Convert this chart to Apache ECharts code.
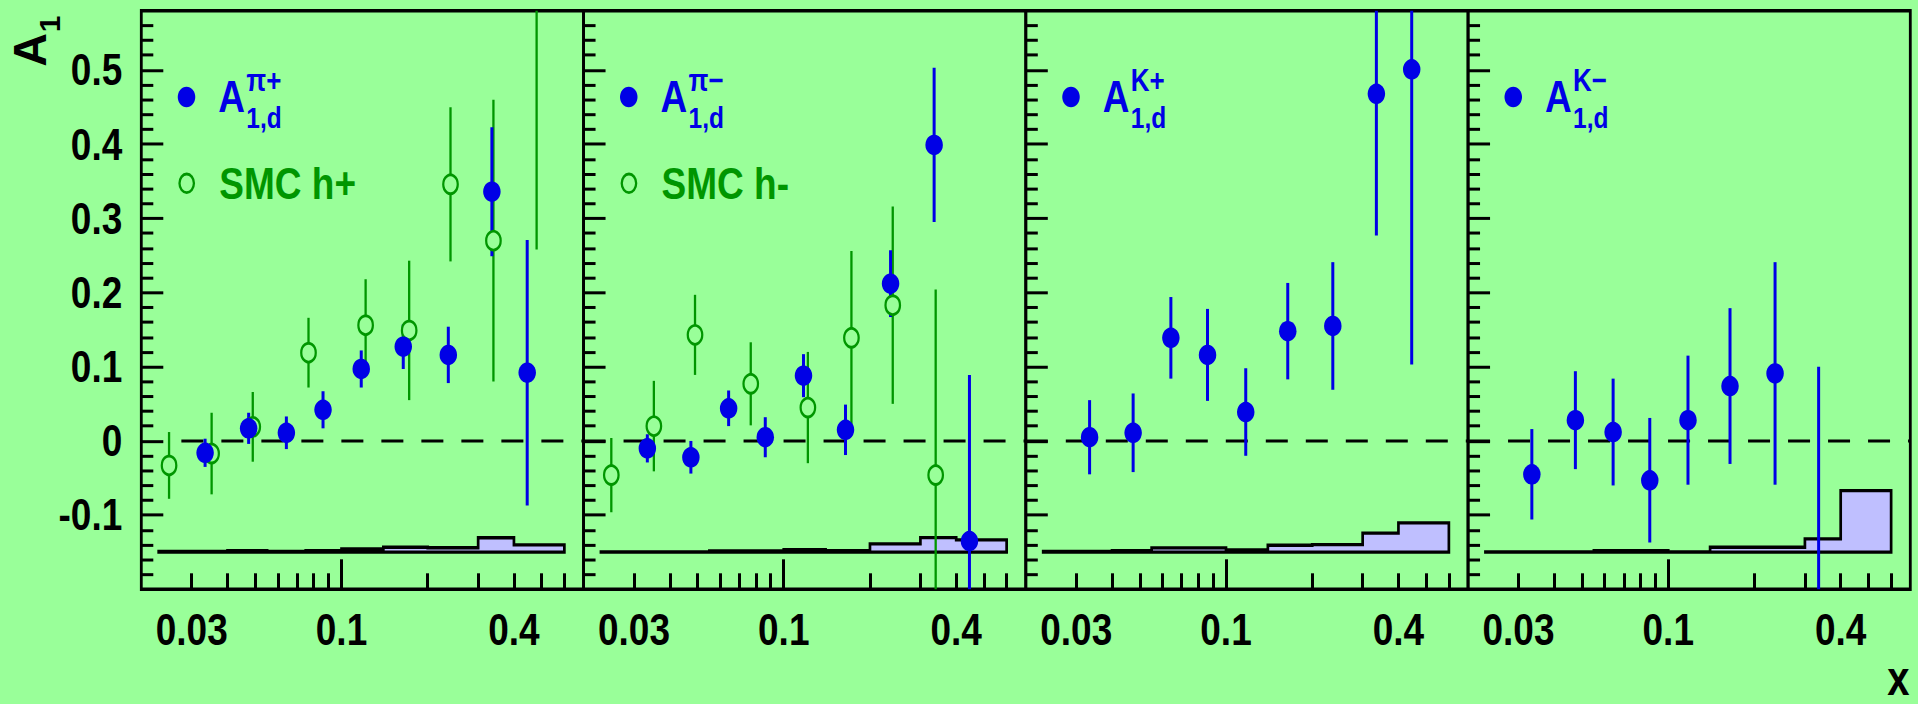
<!DOCTYPE html>
<html>
<head>
<meta charset="utf-8">
<script src="https://cdn.jsdelivr.net/npm/echarts@6/dist/echarts.min.js"></script>
<style>
html, body { margin: 0; padding: 0; background: #ffffff; }
#wrap { width: 1918px; height: 704px; overflow: hidden; background: #99ff99; }
#chart { width: 1918px; height: 577px; transform-origin: 0 0; }
</style>
</head>
<body>
<div id="wrap"><div id="chart"></div></div>
<script>
// ---------------- data ----------------
const binEdges = [0.023, 0.04, 0.055, 0.075, 0.1, 0.14, 0.2, 0.3, 0.4, 0.6];
const hermesX = [0.0334, 0.0474, 0.0642, 0.0862, 0.1172, 0.1643, 0.2360, 0.3350, 0.4450];
const smcX = [0.0250, 0.0352, 0.0490, 0.0767, 0.1214, 0.1723, 0.2402, 0.3392, 0.4800];

const piPlusA1 = [-0.016, 0.017, 0.011, 0.042, 0.097, 0.127, 0.116, 0.336, 0.092];
const piPlusErr = [0.019, 0.021, 0.022, 0.025, 0.025, 0.030, 0.038, 0.087, 0.179];
const piPlusSys = [0.001, 0.002, 0.001, 0.002, 0.0045, 0.0067, 0.006, 0.0195, 0.010];
const smcHPlusA1 = [-0.033, -0.017, 0.019, 0.119, 0.156, 0.149, 0.346, 0.270, 0.620];
const smcHPlusErr = [0.045, 0.055, 0.047, 0.047, 0.062, 0.094, 0.104, 0.190, 0.362];

const piMinusA1 = [-0.010, -0.022, 0.044, 0.005, 0.088, 0.015, 0.212, 0.399, -0.135];
const piMinusErr = [0.019, 0.022, 0.024, 0.027, 0.029, 0.034, 0.045, 0.104, 0.224];
const piMinusSys = [0.0005, 0.0005, 0.0018, 0.0018, 0.0036, 0.0022, 0.0112, 0.0198, 0.0166];
const smcHMinusA1 = [-0.046, 0.020, 0.143, 0.077, 0.045, 0.139, 0.183, -0.046];
const smcHMinusErr = [0.050, 0.061, 0.054, 0.056, 0.075, 0.117, 0.133, 0.250];

const kPlusA1 = [0.005, 0.011, 0.139, 0.116, 0.039, 0.148, 0.155, 0.468, 0.501];
const kPlusErr = [0.050, 0.053, 0.055, 0.062, 0.059, 0.065, 0.086, 0.191, 0.398];
const kPlusSys = [0.001, 0.002, 0.0058, 0.0058, 0.003, 0.0094, 0.0103, 0.0256, 0.0395];

const kMinusA1 = [-0.045, 0.028, 0.012, -0.053, 0.028, 0.074, 0.091, -0.260];
const kMinusErr = [0.061, 0.066, 0.072, 0.084, 0.087, 0.105, 0.150, 0.360];
const kMinusSys = [0.0005, 0.0005, 0.002, 0.002, 0.0005, 0.0067, 0.0067, 0.018, 0.0831];

const sysBaseline = -0.15;
const xRange = [0.02, 0.7];
const yRange = [-0.2, 0.58];
const xTickLabels = [0.03, 0.1, 0.4];
const xShortTicks = [0.03, 0.04, 0.05, 0.06, 0.07, 0.08, 0.09, 0.2, 0.3, 0.4, 0.5, 0.6];
const xLongTicks = [0.1];
const yTickLabels = [-0.1, 0, 0.1, 0.2, 0.3, 0.4, 0.5];
const yMinorTicks = [-0.18, -0.16, -0.14, -0.12, -0.08, -0.06, -0.04, -0.02,
  0.02, 0.04, 0.06, 0.08, 0.12, 0.14, 0.16, 0.18, 0.22, 0.24, 0.26, 0.28,
  0.32, 0.34, 0.36, 0.38, 0.42, 0.44, 0.46, 0.48, 0.52, 0.54, 0.56];
const zeroLineStart = [0.0276, 0.02, 0.02, 0.02];

const superscripts = ['\u03c0+', '\u03c0\u2212', 'K+', 'K\u2212'];
const smcLabels = ['SMC h+', 'SMC h-', null, null];

// ---------------- style / layout ----------------
// The reference is drawn with a vertical stretch: the chart is laid out at
// 577px height and stretched to 704px with CSS (vector SVG output).
const S = 704 / 577;
document.getElementById('chart').style.transform = 'scaleY(' + S + ')';
const yc = v => v / S;

const BG = '#99ff99';
const BLUE = '#0000e6';
const GREEN = '#009600';
const LAVENDER = '#bfbfff';
const FONT = "'Liberation Sans', Arial, Helvetica, sans-serif";
const PANEL_LEFT0 = 141.3, PANEL_W = 442.25;
const PANEL_TOP = yc(10.7), PANEL_H = yc(578.6);
const HLINE = 3 / S;   // line width for horizontal strokes

const panels = [
  { a1: piPlusA1, err: piPlusErr, sys: piPlusSys, smc: smcHPlusA1, smcErr: smcHPlusErr },
  { a1: piMinusA1, err: piMinusErr, sys: piMinusSys, smc: smcHMinusA1, smcErr: smcHMinusErr },
  { a1: kPlusA1, err: kPlusErr, sys: kPlusSys, smc: null, smcErr: null },
  { a1: kMinusA1, err: kMinusErr, sys: kMinusSys, smc: null, smcErr: null }
];

function fmtX(v) { return String(parseFloat(Number(v).toPrecision(3))); }
function fmtY(v) { return String(Math.round(v * 10) / 10); }

function errRender(color, width) {
  return function (params, api) {
    const x = api.value(0), y = api.value(1), e = api.value(2);
    const p1 = api.coord([x, y - e]);
    const p2 = api.coord([x, y + e]);
    return { type: 'line', shape: { x1: p1[0], y1: p1[1], x2: p2[0], y2: p2[1] },
      style: { stroke: color, lineWidth: width } };
  };
}

function histRender(sys) {
  return function (params, api) {
    if (params.dataIndex !== 0) return null;
    const pts = [api.coord([binEdges[0], sysBaseline])];
    for (let k = 0; k < sys.length; k++) {
      pts.push(api.coord([binEdges[k], sysBaseline + sys[k]]));
      pts.push(api.coord([binEdges[k + 1], sysBaseline + sys[k]]));
    }
    pts.push(api.coord([binEdges[sys.length], sysBaseline]));
    return { type: 'polygon', shape: { points: pts },
      style: { fill: LAVENDER, stroke: '#000', lineWidth: 2.7, lineJoin: 'miter' } };
  };
}

function zeroRender(params, api) {
  const p1 = api.coord([api.value(0), 0]);
  const p2 = api.coord([api.value(1), 0]);
  return { type: 'line', shape: { x1: p1[0], y1: p1[1], x2: p2[0], y2: p2[1] },
    style: { stroke: '#000', lineWidth: HLINE, lineDash: [22, 18] } };
}

const grids = [], xAxes = [], yAxes = [], series = [], graphics = [];
const labelStyle = { color: '#000', fontSize: 37, lineHeight: 37, fontWeight: 'bold', fontFamily: FONT };

panels.forEach((p, i) => {
  const L = PANEL_LEFT0 + i * PANEL_W;
  grids.push({ left: L, top: PANEL_TOP, width: PANEL_W, height: PANEL_H, show: true,
    borderColor: '#000', borderWidth: 2.8, backgroundColor: 'transparent',
    containLabel: false, outerBoundsMode: 'none' });

  xAxes.push({ type: 'log', logBase: 10, gridIndex: i, min: xRange[0], max: xRange[1], position: 'bottom',
    axisLine: { show: false, onZero: false }, splitLine: { show: false }, minorTick: { show: false },
    axisTick: { show: true, inside: true, length: yc(16), customValues: xShortTicks, lineStyle: { color: '#000', width: 3 } },
    axisLabel: Object.assign({ show: true, customValues: xTickLabels, formatter: fmtX, margin: 15 }, labelStyle) });
  xAxes.push({ type: 'log', logBase: 10, gridIndex: i, min: xRange[0], max: xRange[1], position: 'bottom',
    axisLine: { show: false, onZero: false }, splitLine: { show: false }, minorTick: { show: false },
    axisTick: { show: true, inside: true, length: yc(30), customValues: xLongTicks, lineStyle: { color: '#000', width: 3 } },
    axisLabel: { show: false } });
  yAxes.push({ type: 'value', gridIndex: i, min: yRange[0], max: yRange[1], position: 'left',
    axisLine: { show: false, onZero: false }, splitLine: { show: false },
    axisTick: { show: true, inside: true, length: 22, customValues: yTickLabels, lineStyle: { color: '#000', width: HLINE } },
    axisLabel: Object.assign({ show: i === 0, customValues: yTickLabels, formatter: fmtY, margin: 19 }, labelStyle) });
  yAxes.push({ type: 'value', gridIndex: i, min: yRange[0], max: yRange[1], position: 'left',
    axisLine: { show: false, onZero: false }, splitLine: { show: false },
    axisTick: { show: true, inside: true, length: 12, customValues: yMinorTicks, lineStyle: { color: '#000', width: HLINE } },
    axisLabel: { show: false } });

  const xi = 2 * i, yi = 2 * i;
  series.push({ type: 'custom', name: 'syst ' + i, xAxisIndex: xi, yAxisIndex: yi, clip: true, silent: true,
    renderItem: histRender(p.sys), encode: { x: 0, y: 2 },
    data: p.sys.map((h, k) => [binEdges[k], binEdges[k + 1], h]) });
  series.push({ type: 'custom', name: 'zero ' + i, xAxisIndex: xi, yAxisIndex: yi, clip: true, silent: true,
    renderItem: zeroRender, encode: { x: 0 }, data: [[zeroLineStart[i], xRange[1]]] });
  if (p.smc) {
    series.push({ type: 'custom', name: smcLabels[i] + ' err', xAxisIndex: xi, yAxisIndex: yi, clip: true, silent: true,
      renderItem: errRender(GREEN, 2.3), encode: { x: 0, y: 1 },
      data: p.smc.map((v, k) => [smcX[k], v, p.smcErr[k]]) });
    series.push({ type: 'scatter', name: smcLabels[i], xAxisIndex: xi, yAxisIndex: yi, clip: true, silent: true,
      symbol: 'circle', symbolSize: [14.5, yc(18.8)],
      itemStyle: { color: BG, borderColor: GREEN, borderWidth: 2.3, opacity: 1 },
      data: p.smc.map((v, k) => [smcX[k], v]) });
  }
  series.push({ type: 'custom', name: 'A1 err ' + i, xAxisIndex: xi, yAxisIndex: yi, clip: true, silent: true,
    renderItem: errRender(BLUE, 3), encode: { x: 0, y: 1 },
    data: p.a1.map((v, k) => [hermesX[k], v, p.err[k]]) });
  series.push({ type: 'scatter', name: 'A1 ' + superscripts[i], xAxisIndex: xi, yAxisIndex: yi, clip: true, silent: true,
    symbol: 'circle', symbolSize: [17.5, yc(20.5)], itemStyle: { color: BLUE, opacity: 1 },
    data: p.a1.map((v, k) => [hermesX[k], v]) });

  // legend block
  graphics.push({ type: 'ellipse', shape: { cx: L + 45.2, cy: yc(97), rx: 8.75, ry: yc(10.3) }, style: { fill: BLUE } });
  graphics.push({ type: 'text', x: L + 77, y: yc(96.7),
    style: { text: 'A', font: 'bold 37px ' + FONT, fill: BLUE, align: 'left', verticalAlign: 'middle' } });
  graphics.push({ type: 'text', x: L + 105, y: yc(80),
    style: { text: superscripts[i], font: 'bold 26px ' + FONT, fill: BLUE, align: 'left', verticalAlign: 'middle' } });
  graphics.push({ type: 'text', x: L + 105, y: yc(117.5),
    style: { text: '1,d', font: 'bold 24.5px ' + FONT, fill: BLUE, align: 'left', verticalAlign: 'middle' } });
  if (smcLabels[i]) {
    graphics.push({ type: 'ellipse', shape: { cx: L + 45.4, cy: yc(183.3), rx: 7.2, ry: yc(9.3) },
      style: { fill: 'none', stroke: GREEN, lineWidth: 2.3 } });
    graphics.push({ type: 'text', x: L + 78, y: yc(183.3),
      style: { text: smcLabels[i], font: 'bold 37px ' + FONT, fill: GREEN, align: 'left', verticalAlign: 'middle' } });
  }
});

// axis titles
graphics.push({ type: 'text', x: 30, y: yc(50), rotation: Math.PI / 2, scaleX: 0.813,
  style: { text: 'A', font: 'bold 47px ' + FONT, fill: '#000', align: 'center', verticalAlign: 'middle' } });
graphics.push({ type: 'text', x: 49, y: yc(24), rotation: Math.PI / 2, scaleX: 0.813,
  style: { text: '1', font: 'bold 30px ' + FONT, fill: '#000', align: 'center', verticalAlign: 'middle' } });
graphics.push({ type: 'text', x: 1909.5, y: 556,
  style: { text: 'x', font: 'bold 40px ' + FONT, fill: '#000', align: 'right', verticalAlign: 'middle' } });

const chart = echarts.init(document.getElementById('chart'), null, { renderer: 'svg' });
chart.setOption({
  animation: false,
  backgroundColor: BG,
  grid: grids,
  xAxis: xAxes,
  yAxis: yAxes,
  series: series,
  graphic: graphics
});
</script>
</body>
</html>
